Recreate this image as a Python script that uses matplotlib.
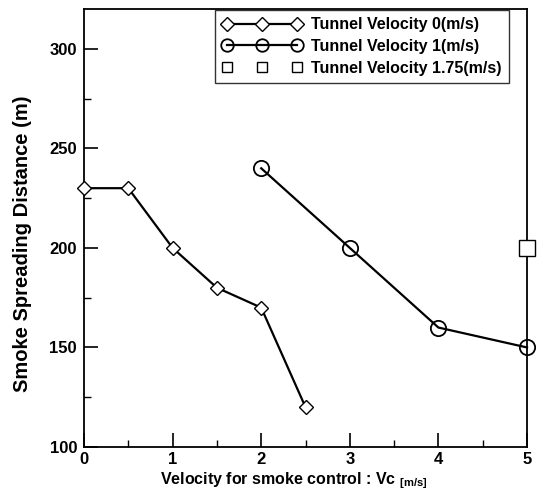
import matplotlib
matplotlib.use("Agg")
import matplotlib.pyplot as plt
from matplotlib.ticker import MultipleLocator

plt.rcParams['font.family'] = ['Liberation Sans', 'DejaVu Sans']
plt.rcParams['font.weight'] = 'bold'
plt.rcParams['mathtext.fontset'] = 'custom'
plt.rcParams['mathtext.bf'] = 'Liberation Sans:bold'
plt.rcParams['mathtext.rm'] = 'Liberation Sans:bold'

x0 = [0, 0.5, 1, 1.5, 2, 2.5]
y0 = [230, 230, 200, 180, 170, 120]
x1 = [2, 3, 4, 5]
y1 = [240, 200, 160, 150]
x2 = [5]
y2 = [200]
labels = ["Tunnel Velocity 0(m/s)", "Tunnel Velocity 1(m/s)", "Tunnel Velocity 1.75(m/s)"]

fig = plt.figure(figsize=(5.46, 4.91), dpi=100)
L, R, T, B = 84, 527, 9, 447
ax = fig.add_axes([L/546, 1-B/491, (R-L)/546, (B-T)/491])

ax.plot(x0, y0, '-', color='black', lw=1.6, marker='D', markersize=7,
        markerfacecolor='white', markeredgecolor='black', markeredgewidth=1.0, label=labels[0], clip_on=False, zorder=3)
ax.plot(x1, y1, '-', color='black', lw=1.6, marker='o', markersize=11,
        markerfacecolor='none', markeredgecolor='black', markeredgewidth=1.3, label=labels[1], clip_on=False, zorder=3)
ax.plot(x2, y2, linestyle='none', marker='s', markersize=11.5,
        markerfacecolor='white', markeredgecolor='black', markeredgewidth=1.0, label=labels[2], clip_on=False, zorder=3)

ax.set_xlim(0, 5)
ax.set_ylim(100, 320)
ax.xaxis.set_major_locator(MultipleLocator(1))
ax.xaxis.set_minor_locator(MultipleLocator(0.5))
ax.yaxis.set_major_locator(MultipleLocator(50))
ax.yaxis.set_minor_locator(MultipleLocator(25))
ax.tick_params(which='major', direction='in', length=10, width=1.2, labelsize=12, pad=5)
ax.tick_params(axis='x', which='major', pad=3.5)
ax.tick_params(which='minor', direction='in', length=5, width=1.0)
for lab in ax.get_xticklabels() + ax.get_yticklabels():
    lab.set_fontweight('bold')
for s in ax.spines.values():
    s.set_linewidth(1.3)

ax.set_ylabel("Smoke Spreading Distance (m)", fontsize=14.5, fontweight='bold', va='center')
ax.yaxis.set_label_coords((23-L)/(R-L), (B-244)/(B-T))
ax.set_xlabel(r"Velocity for smoke control : Vc $_{\mathbf{[m/s]}}$", fontsize=11.5, fontweight='bold', va='baseline')
ax.xaxis.set_label_coords((294-L)/(R-L), (B-484)/(B-T))

leg = ax.legend(loc='upper right', bbox_to_anchor=((509-L)/(R-L), (B-10)/(B-T)), numpoints=3, handlelength=5.0,
                fontsize=11.5, frameon=True, fancybox=False, edgecolor='black',
                borderaxespad=0.0, borderpad=0.45, labelspacing=0.42, handletextpad=0.6)
leg.get_frame().set_linewidth(1.0)
for t in leg.get_texts():
    t.set_fontweight('bold')
hs = leg.legend_handles
hs[0].set_markersize(7)
hs[1].set_markersize(9)
hs[2].set_markersize(7.5)

fig.savefig("out.png", dpi=100)
